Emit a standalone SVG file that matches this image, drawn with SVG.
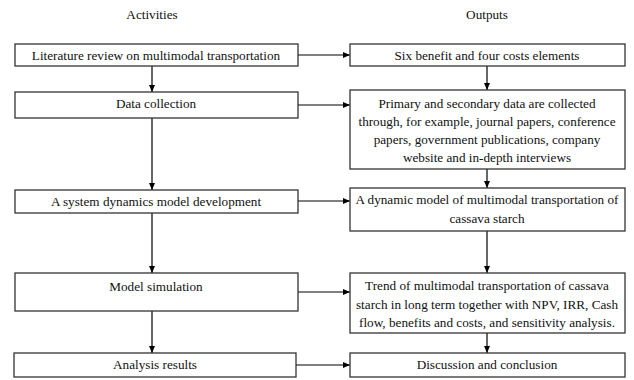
<svg xmlns="http://www.w3.org/2000/svg" width="634" height="380" viewBox="0 0 634 380">
<defs>
<marker id="ah" markerWidth="7" markerHeight="6" refX="7" refY="3" orient="auto" markerUnits="userSpaceOnUse">
<path d="M0,0 L7,3 L0,6 Z" fill="#000"/>
</marker>
<style>
.box{fill:#fff;stroke:#333;stroke-width:1.3}
.t{font-family:'Liberation Serif',serif;font-size:13.2px;fill:#111;text-anchor:middle}
.c{stroke:#000;stroke-width:1.2;fill:none;marker-end:url(#ah)}
</style>
</defs>
<rect width="634" height="380" fill="#fff"/>
<text class="t" x="152" y="19" font-family="Liberation Serif">Activities</text>
<text class="t" x="487" y="19" font-family="Liberation Serif">Outputs</text>
<g id="connectors">
<path class="c" d="M152,66 V92"/>
<path class="c" d="M152,118 V190"/>
<path class="c" d="M152,213 V273"/>
<path class="c" d="M152,311 V353"/>
<path class="c" d="M487,66 V90"/>
<path class="c" d="M487,169 V188"/>
<path class="c" d="M487,231 V273"/>
<path class="c" d="M487,333 V353"/>
<path class="c" d="M298,55 H350"/>
<path class="c" d="M298,105 H350"/>
<path class="c" d="M298,201 H350"/>
<path class="c" d="M298,292 H350"/>
<path class="c" d="M296,365 H350"/>
</g>
<g id="a1"><rect class="box" x="15" y="44" width="283" height="22"/><text class="t" x="156" y="60" font-family="Liberation Serif">Literature review on multimodal transportation</text></g>
<g id="a2"><rect class="box" x="15" y="92" width="283" height="26"/><text class="t" x="156" y="108" font-family="Liberation Serif">Data collection</text></g>
<g id="a3"><rect class="box" x="15" y="190" width="283" height="23"/><text class="t" x="156" y="206" font-family="Liberation Serif">A system dynamics model development</text></g>
<g id="a4"><rect class="box" x="15" y="273" width="283" height="38"/><text class="t" x="156" y="291" font-family="Liberation Serif">Model simulation</text></g>
<g id="a5"><rect class="box" x="14" y="353" width="282" height="24"/><text class="t" x="155" y="369" font-family="Liberation Serif">Analysis results</text></g>
<g id="o1"><rect class="box" x="350" y="44" width="275" height="22"/><text class="t" x="487" y="60" font-family="Liberation Serif">Six benefit and four costs elements</text></g>
<g id="o2"><rect class="box" x="350" y="90" width="275" height="79"/><text class="t" x="487" font-family="Liberation Serif"><tspan x="487" y="108">Primary and secondary data are collected</tspan><tspan x="487" y="126">through, for example, journal papers, conference</tspan><tspan x="487" y="144">papers, government publications, company</tspan><tspan x="487" y="162">website and in-depth interviews</tspan></text></g>
<g id="o3"><rect class="box" x="350" y="188" width="275" height="43"/><text class="t" font-family="Liberation Serif"><tspan x="487" y="204">A dynamic model of multimodal transportation of</tspan><tspan x="487" y="223">cassava starch</tspan></text></g>
<g id="o4"><rect class="box" x="350" y="273" width="275" height="60"/><text class="t" font-family="Liberation Serif"><tspan x="487" y="290">Trend of multimodal transportation of cassava</tspan><tspan x="487" y="309">starch in long term together with NPV, IRR, Cash</tspan><tspan x="487" y="327">flow, benefits and costs, and sensitivity analysis.</tspan></text></g>
<g id="o5"><rect class="box" x="350" y="353" width="275" height="24"/><text class="t" x="487" y="369" font-family="Liberation Serif">Discussion and conclusion</text></g>
</svg>
